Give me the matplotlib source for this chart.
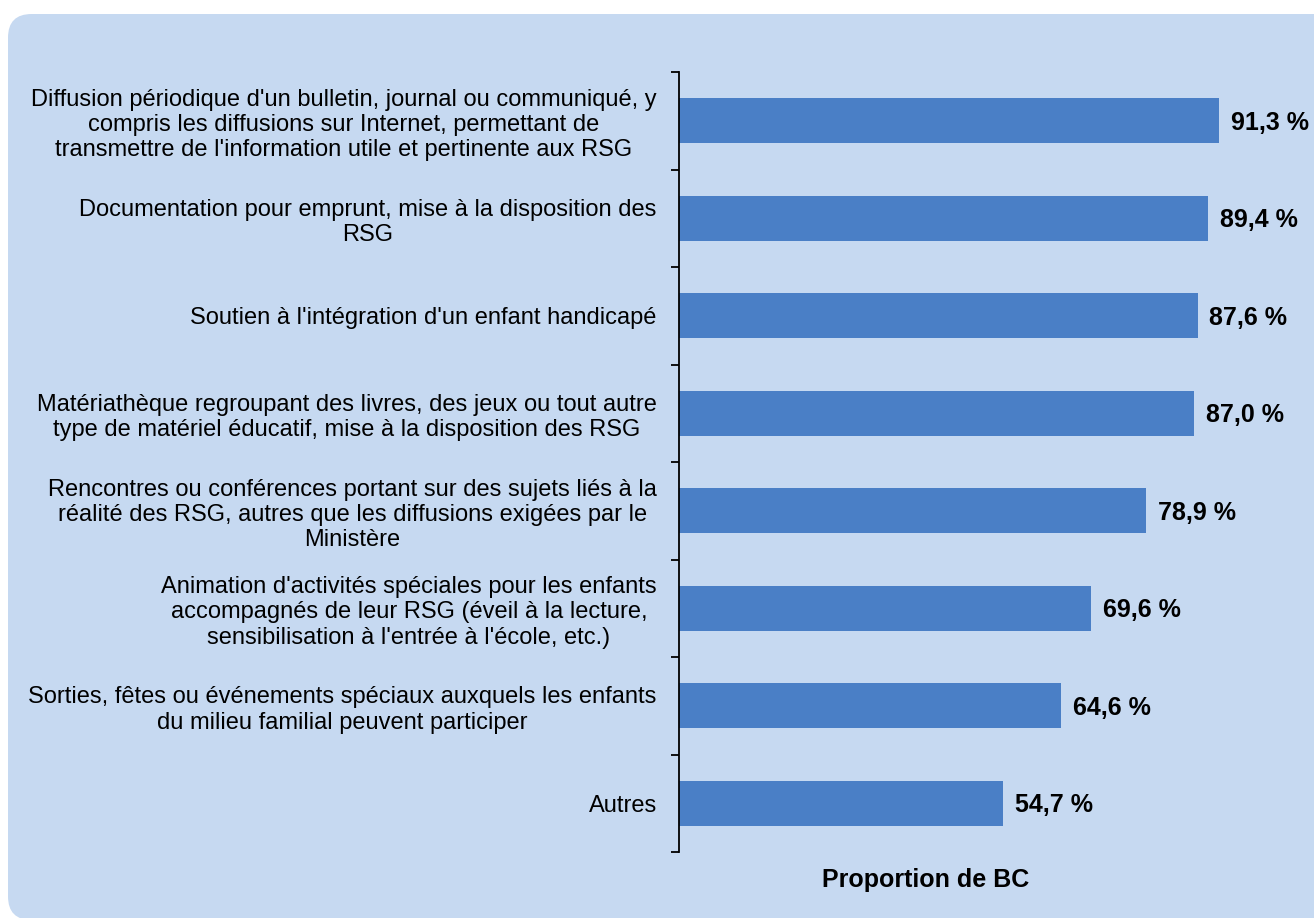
import matplotlib

matplotlib.use("Agg")
import matplotlib.pyplot as plt
from matplotlib.patches import FancyBboxPatch
import numpy as np

categories = [
    "Diffusion périodique d'un bulletin, journal ou communiqué, y\n"
    "compris les diffusions sur Internet, permettant de\n"
    "transmettre de l'information utile et pertinente aux RSG",
    "Documentation pour emprunt, mise à la disposition des\nRSG",
    "Soutien à l'intégration d'un enfant handicapé",
    "Matériathèque regroupant des livres, des jeux ou tout autre\n"
    "type de matériel éducatif, mise à la disposition des RSG",
    "Rencontres ou conférences portant sur des sujets liés à la\n"
    "réalité des RSG, autres que les diffusions exigées par le\nMinistère",
    "Animation d'activités spéciales pour les enfants\n"
    "accompagnés de leur RSG (éveil à la lecture,\n"
    "sensibilisation à l'entrée à l'école, etc.)",
    "Sorties, fêtes ou événements spéciaux auxquels les enfants\n"
    "du milieu familial peuvent participer",
    "Autres",
]
values = [91.3, 89.4, 87.6, 87.0, 78.9, 69.6, 64.6, 54.7]
value_labels = ["91,3 %", "89,4 %", "87,6 %", "87,0 %", "78,9 %", "69,6 %", "64,6 %", "54,7 %"]
x_title = "Proportion de BC"

BG = "#C6D9F1"
BAR = "#4A7FC6"
FONT = ["Liberation Sans Narrow", "Liberation Sans", "DejaVu Sans"]

plt.rcParams["font.family"] = FONT

W, H = 1314, 918
fig = plt.figure(figsize=(W / 100, H / 100), dpi=100, facecolor="white")

# rounded panel behind the chart (runs off the right and bottom edges)
panel = FancyBboxPatch(
    (8 / W, -2 / H), 1.2, (918 + 2 - 14) / H,
    boxstyle="round,pad=0,rounding_size=0.018",
    transform=fig.transFigure, facecolor=BG, edgecolor="none",
    mutation_aspect=W / H, zorder=-1,
)
fig.patches.append(panel)

ax = fig.add_axes([679 / W, 1 - 852 / H, 592 / W, (852 - 72) / H])
ax.set_zorder(2)
ax.set_facecolor("none")

n = len(values)
y = np.arange(n)
ax.barh(y, values, height=0.46, color=BAR, zorder=2)
for yi, v, lab in zip(y, values, value_labels):
    ax.text(v + 2, yi + 0.02, lab, va="center", ha="left", fontsize=18,
            fontweight="bold", clip_on=False)

ax.set_xlim(0, 100)
ax.set_ylim(n - 0.5, -0.5)

ax.set_yticks(y)
ax.set_yticklabels(categories, fontsize=17, multialignment="center")
ax.tick_params(axis="y", which="major", length=0, pad=16)
ax.set_yticks(np.arange(-0.5, n, 1.0), minor=True)
ax.tick_params(axis="y", which="minor", length=6, width=1.3, direction="out")
ax.set_xticks([])

for side in ("top", "right", "bottom"):
    ax.spines[side].set_visible(False)
ax.spines["left"].set_linewidth(1.3)

fig.text(926 / W, 1 - 880 / H, x_title, ha="center", va="center",
         fontsize=18, fontweight="bold")

fig.savefig("out.png", dpi=100, facecolor="white")
